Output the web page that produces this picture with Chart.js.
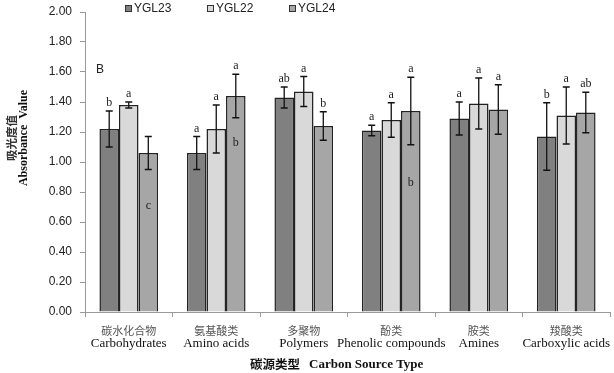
<!DOCTYPE html>
<html><head><meta charset="utf-8">
<script src="https://cdn.jsdelivr.net/npm/chart.js@4.4.1/dist/chart.umd.min.js"></script>
<style>html,body{margin:0;padding:0;background:#fff;}canvas{display:block;}</style>
</head><body>
<canvas id="c" width="614" height="373"></canvas>
<script>
const categoriesZh = ['碳水化合物','氨基酸类','多聚物','酚类','胺类','羧酸类'];
const categoriesEn = ['Carbohydrates','Amino acids','Polymers','Phenolic compounds','Amines','Carboxylic acids'];
const seriesNames = ['YGL23','YGL22','YGL24'];
const ygl23 = [1.22,1.06,1.43,1.21,1.29,1.17];
const ygl22 = [1.38,1.22,1.47,1.28,1.39,1.31];
const ygl24 = [1.06,1.44,1.24,1.34,1.35,1.33];
const err23 = [0.12,0.11,0.07,0.035,0.11,0.225];
const err22 = [0.02,0.16,0.10,0.115,0.17,0.19];
const err24 = [0.11,0.145,0.095,0.225,0.165,0.135];
const sig23 = ['b','a','ab','a','a','b'];
const sig22 = ['a','a','a','a','a','a'];
const sig24 = ['','a','b','a','a','ab'];
const innerSig24 = ['c','b','','b','',''];
const innerSigY24 = [0.71,1.13,null,0.86,null,null];
const yTicks = [0,0.2,0.4,0.6,0.8,1.0,1.2,1.4,1.6,1.8,2.0];
const panelLabel = 'B';
const yTitleZh = '吸光度值';
const yTitleEn = 'Absorbance  Value';
const xTitleZh = '碳源类型';
const xTitleEn = 'Carbon Source Type';

const colors = ['#808080','#d9d9d9','#a6a6a6'];
const errs = [err23, err22, err24];
const sigs = [sig23, sig22, sig24];

const overlay = {
  id: 'overlay',
  afterDatasetsDraw(chart) {
    const ctx = chart.ctx, y = chart.scales.y;
    ctx.save();
    chart.data.datasets.forEach((ds, di) => {
      const meta = chart.getDatasetMeta(di);
      meta.data.forEach((bar, i) => {
        const v = ds.data[i], e = errs[di][i];
        const x = bar.x;
        const yt = y.getPixelForValue(v + e), yb = y.getPixelForValue(v - e);
        ctx.strokeStyle = '#111'; ctx.lineWidth = 1.3;
        ctx.beginPath();
        ctx.moveTo(x, yt); ctx.lineTo(x, yb);
        ctx.moveTo(x - 3.5, yt); ctx.lineTo(x + 3.5, yt);
        ctx.moveTo(x - 3.5, yb); ctx.lineTo(x + 3.5, yb);
        ctx.stroke();
        ctx.fillStyle = '#222';
        ctx.font = '12px "Liberation Serif"';
        ctx.textAlign = 'center'; ctx.textBaseline = 'alphabetic';
        const s = sigs[di][i];
        if (s) ctx.fillText(s, x, yt - 5);
        if (di === 2 && innerSig24[i]) {
          ctx.textBaseline = 'middle';
          ctx.fillText(innerSig24[i], x, y.getPixelForValue(innerSigY24[i]));
        }
      });
    });
    ctx.restore();
  },
  afterDraw(chart) {
    const ctx = chart.ctx, xs = chart.scales.x;
    ctx.save();
    ctx.fillStyle = '#555';
    ctx.font = '11px "Noto Sans CJK SC"';
    ctx.textAlign = 'center'; ctx.textBaseline = 'middle';
    categoriesZh.forEach((t, i) => ctx.fillText(t, xs.getPixelForTick(i), 331));
    ctx.font = '12px "Liberation Sans"';
    ctx.textBaseline = 'middle'; ctx.textAlign = 'left';
    const lx = [125, 207, 289];
    seriesNames.forEach((n, i) => {
      ctx.fillStyle = colors[i];
      ctx.fillRect(lx[i], 5, 6, 6);
      ctx.strokeStyle = '#333'; ctx.lineWidth = 1;
      ctx.strokeRect(lx[i] + 0.5, 5.5, 6, 6);
      ctx.fillStyle = '#222';
      ctx.fillText(n, lx[i] + 9, 9);
    });
    ctx.fillText(panelLabel, 96, 70);
    ctx.save();
    ctx.translate(0, 138);
    ctx.rotate(-Math.PI / 2);
    ctx.textAlign = 'center'; ctx.textBaseline = 'middle';
    ctx.font = 'bold 11.5px "Noto Sans CJK SC"';
    ctx.fillStyle = '#333';
    ctx.fillText(yTitleZh, 0, 12);
    ctx.font = 'bold 12px "Liberation Serif"';
    ctx.fillStyle = '#111';
    ctx.fillText(yTitleEn, 0, 24);
    ctx.restore();
    ctx.textAlign = 'left'; ctx.textBaseline = 'middle';
    ctx.fillStyle = '#111';
    ctx.font = 'bold 12.5px "Noto Sans CJK SC"';
    ctx.fillText(xTitleZh, 250, 364);
    ctx.font = 'bold 13px "Liberation Serif"';
    ctx.fillText(xTitleEn, 309, 365);
    ctx.restore();
  }
};

new Chart(document.getElementById('c'), {
  type: 'bar',
  data: {
    labels: categoriesEn.map(t => ['', t]),
    datasets: [ygl23, ygl22, ygl24].map((d, i) => ({
      label: seriesNames[i], data: d,
      backgroundColor: colors[i], borderColor: '#222', borderWidth: 1.5,
      categoryPercentage: 0.67, barPercentage: 1.0
    }))
  },
  options: {
    responsive: false, animation: false,
    layout: { padding: { top: 12, right: 4, left: 0, bottom: 0 } },
    plugins: { legend: { display: false }, tooltip: { enabled: false } },
    scales: {
      x: {
        grid: { offset: true, drawOnChartArea: false, drawTicks: true, tickLength: 5, color: '#999' },
        border: { color: '#999' },
        ticks: { color: '#111', font: { family: 'Liberation Serif', size: 13 }, padding: 3, maxRotation: 0, autoSkip: false },
        afterFit(s) { s.height = 61; s.paddingLeft = 0; s.paddingRight = 0; }
      },
      y: {
        min: 0, max: 2,
        afterBuildTicks(s) { s.ticks = yTicks.map(v => ({ value: v })); },
        grid: { drawOnChartArea: false, drawTicks: true, tickLength: 5, color: '#999' },
        border: { color: '#999' },
        ticks: { color: '#222', font: { family: 'Liberation Sans', size: 12 }, padding: 8,
          callback: v => Number(v).toFixed(2) },
        afterFit(s) { s.width = 85; s.paddingTop = 0; s.paddingBottom = 0; }
      }
    }
  },
  plugins: [overlay]
});
</script>
</body></html>
